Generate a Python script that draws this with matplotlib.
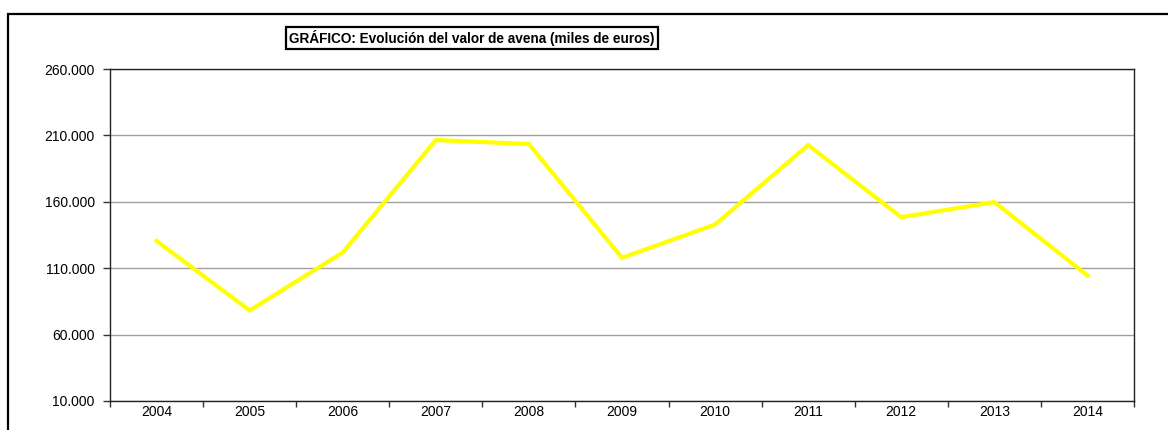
import matplotlib
matplotlib.use("Agg")
import matplotlib.pyplot as plt
from matplotlib.patches import Rectangle
from matplotlib.ticker import FuncFormatter, FixedLocator
import numpy as np

plt.rcParams['font.family'] = ['Liberation Sans', 'DejaVu Sans']

years = ["2004", "2005", "2006", "2007", "2008", "2009", "2010", "2011", "2012", "2013", "2014"]
valor = [130500, 78200, 121800, 206500, 203500, 117800, 142900, 202700, 148400, 159800, 104500]
yticks = [10000, 60000, 110000, 160000, 210000, 260000]

fig = plt.figure(figsize=(11.68, 4.3), dpi=100)
ax = fig.add_axes([110/1168, 1-401/430, (1134-110)/1168, (401-69)/430])

x = np.arange(len(years))
ax.plot(x, valor, color="#FFFF00", lw=3, solid_joinstyle='miter', zorder=3)

ax.set_ylim(10000, 260000)
ax.set_yticks(yticks)
ax.yaxis.set_major_formatter(FuncFormatter(lambda v, p: f"{int(v):,}".replace(",", ".")))
ax.grid(axis='y', color="#a0a0a0", lw=1)
ax.set_axisbelow(True)

ax.set_xlim(-0.5, len(years) - 0.5)
ax.xaxis.set_major_locator(FixedLocator(np.arange(-0.5, len(years), 1.0)))
ax.xaxis.set_major_formatter(FuncFormatter(lambda v, p: ""))
ax.xaxis.set_minor_locator(FixedLocator(x))
ax.set_xticklabels(years, minor=True)
ax.tick_params(axis='x', which='major', length=4, width=1, color="#333333")
ax.tick_params(axis='x', which='minor', length=0, pad=3, labelsize=10)
ax.tick_params(axis='y', length=5, width=1, color="#333333", pad=6, labelsize=10)

for s in ax.spines.values():
    s.set_color("#222222")
    s.set_linewidth(1)

# outer chart frame (cut at right/bottom)
fig.patches.append(Rectangle((8/1168, -0.5), 1.5, 0.5 + 1 - 14/430, transform=fig.transFigure,
                             fill=False, ec="black", lw=1.6, clip_on=False))

fig.text(0.404, 1 - 38/430, "GRÁFICO: Evolución del valor de avena (miles de euros)",
         ha='center', va='center', fontsize=9.8, fontweight='bold',
         bbox=dict(boxstyle='square,pad=0.22', fc='white', ec='black', lw=1.6))

fig.savefig("out.png", dpi=100)
